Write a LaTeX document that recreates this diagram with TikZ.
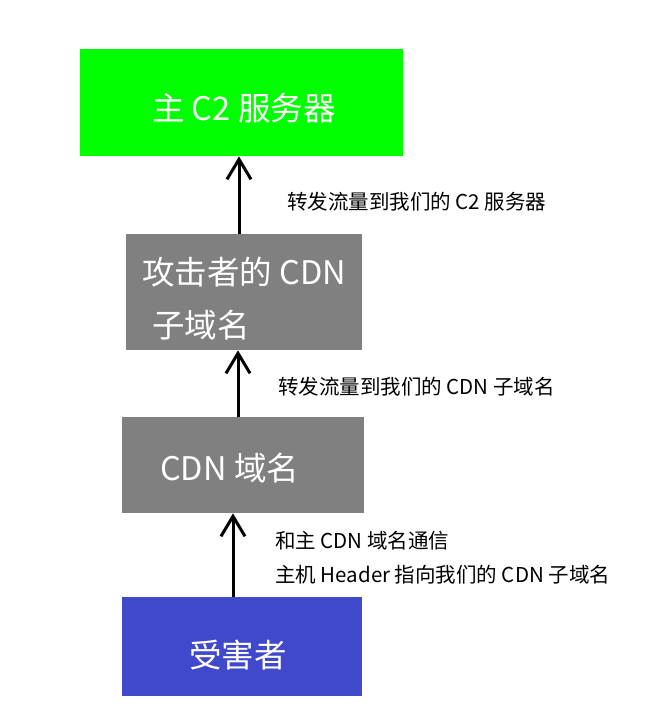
\documentclass[tikz,border=0pt]{standalone}
\usepackage{fontspec}
\setmainfont{Noto Sans CJK SC}
\usetikzlibrary{arrows.meta}
\definecolor{boxgreen}{RGB}{0,255,0}
\definecolor{boxgray}{RGB}{128,128,128}
\definecolor{boxblue}{RGB}{64,72,204}
\tikzset{
  box/.style={draw=none, inner sep=0pt, anchor=north west},
  boxtext/.style={text=white, font=\fontsize{32.5}{32.5}\selectfont, inner sep=0pt, anchor=west},
  lbl/.style={text=black, font=\fontsize{20.5}{20.5}\selectfont, inner sep=0pt, anchor=west},
  arr/.style={line width=3pt, -{Straight Barb[length=20pt 0 0, width=24pt 0 0, line width=3pt]}}
}
\begin{document}
\begin{tikzpicture}[x=1pt,y=-1pt]
\useasboundingbox (0,0) rectangle (647,720);
% boxes
\node[box, fill=boxgreen, minimum width=323pt, minimum height=107pt] (c2) at (80,49) {};
\node[box, fill=boxgray, minimum width=236pt, minimum height=116pt] (sub) at (126,234) {};
\node[box, fill=boxgray, minimum width=242pt, minimum height=96pt] (cdn) at (122,417) {};
\node[box, fill=boxblue, minimum width=240pt, minimum height=99pt] (vic) at (122,597) {};
% box texts
\node[boxtext] (c2t) at (152,108) {主 C2 服务器};
\node[boxtext] (subt1) at (142,272) {攻击者的 CDN};
\node[boxtext] (subt2) at (152,325) {子域名};
\node[boxtext] (cdnt) at (160,468) {CDN 域名};
\node[boxtext] (vict) at (189,655) {受害者};
% arrows
\draw[arr] (sub.north -| 239,0) -- (c2.south -| 239,0);
\draw[arr] (cdn.north -| 238,0) -- (sub.south -| 238,0);
\draw[arr] (vic.north -| 233,0) -- (cdn.south -| 233,0);
% labels
\node[lbl] (l1) at (287,202) {转发流量到我们的 C2 服务器};
\node[lbl] (l2) at (278,387) {转发流量到我们的 CDN 子域名};
\node[lbl] (l3) at (275,541) {和主 CDN 域名通信};
\node[lbl] (l4) at (275,575) {主机 Header 指向我们的 CDN 子域名};
\end{tikzpicture}
\end{document}
